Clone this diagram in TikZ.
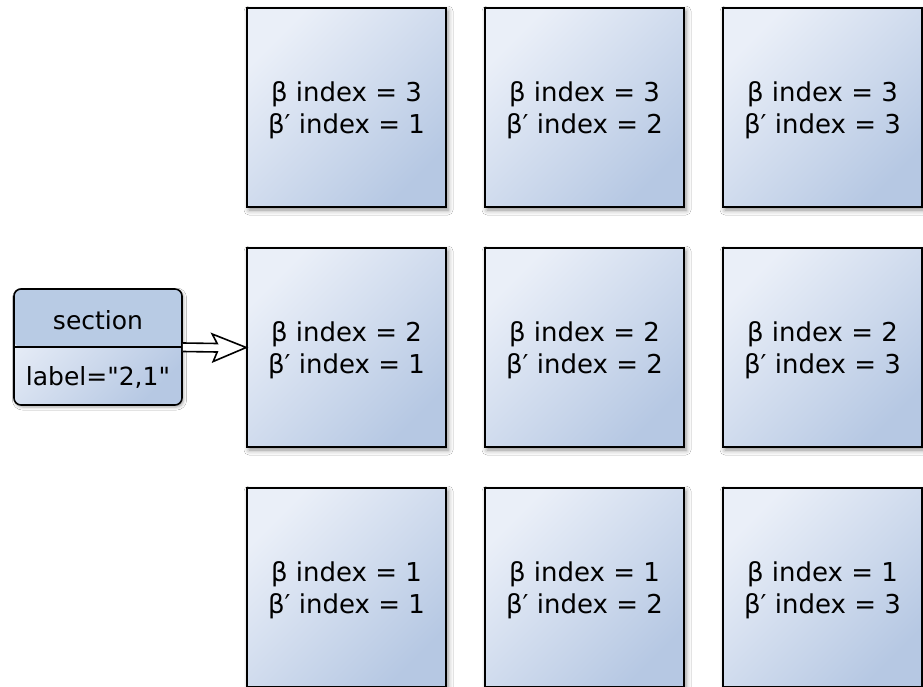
\documentclass[tikz,border=0pt]{standalone}
\usepackage{fontspec}
\setmainfont{DejaVu Sans}
\newfontfamily\plaindvs{DejaVu Sans}
\usetikzlibrary{calc,shadows.blur}
\definecolor{boxlight}{RGB}{234,239,248}
\definecolor{boxdark}{RGB}{182,200,227}
\definecolor{headblue}{RGB}{184,203,228}
\tikzset{
  celltext/.style={align=center, font=\plaindvs\fontsize{26}{32}\selectfont, inner sep=0pt, yshift=-3pt},
  cell/.style={draw=black, line width=1.6pt, minimum width=199pt, minimum height=199pt,
    top color=boxlight, bottom color=boxdark, shading angle=45,
    blur shadow={shadow xshift=2pt, shadow yshift=-3pt, shadow blur radius=5pt, shadow opacity=45},
    inner sep=0pt},
  secbox/.style={draw=black, line width=1.6pt, rounded corners=7pt, minimum width=168pt, minimum height=116pt,
    top color=boxlight, bottom color=boxdark, shading angle=45,
    blur shadow={shadow xshift=1.5pt, shadow yshift=-2pt, shadow blur radius=3pt, shadow opacity=35},
    inner sep=0pt},
  sectxt/.style={font=\plaindvs\fontsize{25}{30}\selectfont, inner sep=0pt},
  hollowarrow/.style={draw=black, fill=white, line width=1.6pt, line join=miter}
}
\newcommand{\cellcontent}[2]{β index = #1\\β′ index = #2}
\begin{document}
\begin{tikzpicture}[x=1pt, y=-1pt]
\useasboundingbox (0,0) rectangle (923,687);
\fill[white] (0,0) rectangle (923,687);
% grid of cells
\node[cell, label={[celltext]center:\cellcontent{3}{1}}] (b31) at (346.5,107.5) {};
\node[cell, label={[celltext]center:\cellcontent{3}{2}}] (b32) at (584.5,107.5) {};
\node[cell, label={[celltext]center:\cellcontent{3}{3}}] (b33) at (822.5,107.5) {};
\node[cell, label={[celltext]center:\cellcontent{2}{1}}] (b21) at (346.5,347.5) {};
\node[cell, label={[celltext]center:\cellcontent{2}{2}}] (b22) at (584.5,347.5) {};
\node[cell, label={[celltext]center:\cellcontent{2}{3}}] (b23) at (822.5,347.5) {};
\node[cell, label={[celltext]center:\cellcontent{1}{1}}] (b11) at (346.5,587.5) {};
\node[cell, label={[celltext]center:\cellcontent{1}{2}}] (b12) at (584.5,587.5) {};
\node[cell, label={[celltext]center:\cellcontent{1}{3}}] (b13) at (822.5,587.5) {};
% section box
\node[secbox, path picture={\fill[headblue] (path picture bounding box.north west) rectangle (path picture bounding box.east);}] (sec) at (98,347) {};
\draw[line width=1.4pt] (sec.west) -- (sec.east);
\node[sectxt] (sechead) at (98,320) {section};
\node[sectxt] (seclabel) at (98,377) {label="2,1"};
% hollow double arrow from section to cell (2,1)
\draw[hollowarrow]
  ($(sec.east)+(0,-4)$) -- ($(b21.west)+(-29,-4)$) -- ($(b21.west)+(-34,-13.5)$)
  -- (b21.west) -- ($(b21.west)+(-33,14)$) -- ($(b21.west)+(-29,4.5)$) -- ($(sec.east)+(0,4.5)$);
\end{tikzpicture}
\end{document}
